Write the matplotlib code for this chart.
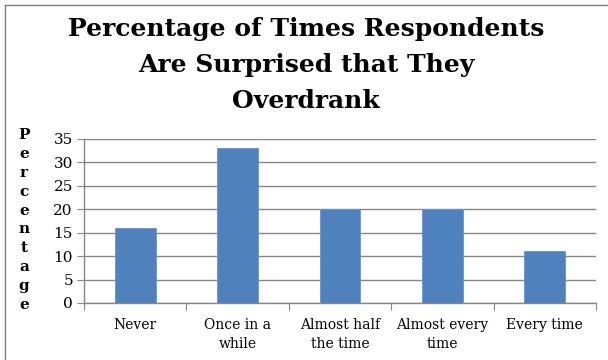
import matplotlib
matplotlib.use("Agg")
import matplotlib.pyplot as plt
from matplotlib.lines import Line2D

categories = ["Never", "Once in a\nwhile", "Almost half\nthe time", "Almost every\ntime", "Every time"]
values = [16, 33, 20, 20, 11]
yticks = [0, 5, 10, 15, 20, 25, 30, 35]
title = "Percentage of Times Respondents\nAre Surprised that They\nOverdrank"
ylabel = "Percentage"

serif = ["DejaVu Serif"]
fig = plt.figure(figsize=(6.08, 3.6), dpi=100)
ax = fig.add_axes([84/608, 57/360, 512/608, 164/360])

x = list(range(len(categories)))
ax.bar(x, values, width=0.4, color="#4F81BD", edgecolor="#6A95CB", linewidth=0.6, zorder=3)
ax.set_xlim(-0.5, len(categories) - 0.5)
ax.set_ylim(0, 35)
ax.set_yticks(yticks)
ax.set_yticklabels([str(v) for v in yticks], family=serif, fontsize=11)
ax.set_xticks([i - 0.5 for i in range(len(categories) + 1)])
ax.set_xticklabels([])
ax.set_xticks(x, minor=True)
ax.set_xticklabels(categories, minor=True, family=serif, fontsize=10, linespacing=1.45)
ax.tick_params(axis="x", which="minor", length=0, pad=11)
ax.tick_params(axis="x", which="major", length=5, color="#868686")
ax.tick_params(axis="y", length=5, color="#868686", pad=3)
ax.grid(axis="y", color="#868686", linewidth=1, zorder=0)
for s in ["top", "right"]:
    ax.spines[s].set_visible(False)
for s in ["left", "bottom"]:
    ax.spines[s].set_color("#868686")
    ax.spines[s].set_linewidth(1)

fig.text(306/608, 1 - 65/360, title, ha="center", va="center", fontsize=18,
         fontweight="bold", family=serif, linespacing=1.62)
fig.text(24/608, 1 - 220/360, "\n".join(ylabel), ha="center", va="center",
         fontsize=11, fontweight="bold", family=serif, linespacing=1.45)

fig.add_artist(Line2D([5/608, 5/608], [0, 1 - 5/360], transform=fig.transFigure, color="#7F7F7F", lw=1))
fig.add_artist(Line2D([5/608, 1], [1 - 5/360, 1 - 5/360], transform=fig.transFigure, color="#7F7F7F", lw=1))

fig.savefig("out.png", dpi=100)
